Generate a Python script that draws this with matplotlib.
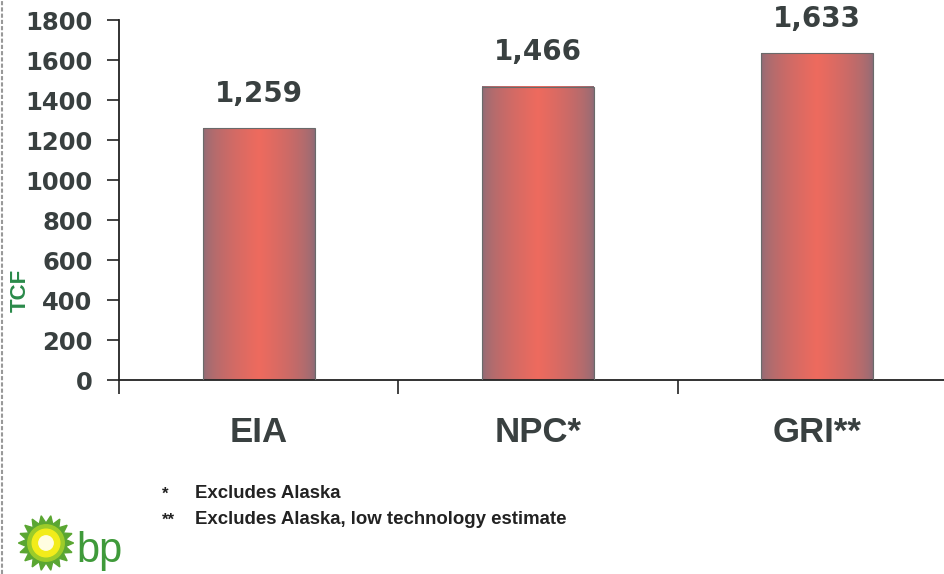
import matplotlib
matplotlib.use('Agg')
import matplotlib.pyplot as plt
import numpy as np
from matplotlib.patches import Polygon, Circle

#------------------data------------------
categories = ['EIA', 'NPC*', 'GRI**']
values = [1259, 1466, 1633]
value_labels = ['1,259', '1,466', '1,633']
yticks = [0, 200, 400, 600, 800, 1000, 1200, 1400, 1600, 1800]
notes = [('*', 'Excludes Alaska'), ('**', 'Excludes Alaska, low technology estimate')]

plt.rcParams['font.family'] = ['Liberation Sans', 'DejaVu Sans']
num_font = 'DejaVu Sans'   #the numbers in the scan are wide, DejaVu fits them better

W, H = 944, 574
fig = plt.figure(figsize=(W / 100, H / 100), dpi=100)
fig.patch.set_facecolor('white')

#axes box in pixel numbers -> fractions
left, right, top, bottom = 119, 957, 20, 380
ax = fig.add_axes([left / W, 1 - bottom / H, (right - left) / W, (bottom - top) / H])

x = np.arange(len(categories))
bars = ax.bar(x, values, width=0.40, facecolor='none', edgecolor='#6a6a6a', linewidth=0.8, zorder=3)

#horizontal gradient: grey-purple edges, salmon centre
t = np.linspace(-1, 1, 200)
wgt = (1 - np.abs(t)) ** 0.55
edge = np.array([138, 108, 120]) / 255.0
centre = np.array([238, 106, 94]) / 255.0
grad = edge[None, :] + (centre - edge)[None, :] * wgt[:, None]
grad = grad[None, :, :]

for rect in bars:
    x0 = rect.get_x()
    w = rect.get_width()
    h = rect.get_height()
    ax.imshow(grad, extent=[x0, x0 + w, 0, h], aspect='auto', zorder=2, interpolation='bilinear')

for rect, lab in zip(bars, value_labels):
    ax.annotate(lab, (rect.get_x() + rect.get_width() / 2, rect.get_height()),
                xytext=(0, 19), textcoords='offset points', ha='center', va='baseline',
                fontsize=20, fontweight='bold', color='#394040', family=num_font)

ax.set_xlim(-0.5, 2.5)
ax.set_ylim(0, 1800)

#spines
for s in ['top', 'right']:
    ax.spines[s].set_visible(False)
ax.spines['left'].set_linewidth(1.3)
ax.spines['bottom'].set_linewidth(1.3)
ax.spines['left'].set_color('#222222')
ax.spines['bottom'].set_color('#222222')

ax.set_yticks(yticks)
ax.set_yticklabels([str(v) for v in yticks], fontsize=17.5, fontweight='bold', color='#394040', family=num_font)
ax.tick_params(axis='y', direction='out', length=9, width=1.2, pad=10, color='#222222')

#category ticks sit between bars, labels centred under bars
ax.set_xticks([-0.5, 0.5, 1.5])
ax.set_xticklabels([])
ax.set_xticks(x, minor=True)
ax.set_xticklabels(categories, minor=True, fontsize=25, fontweight='bold', color='#394040')
ax.tick_params(axis='x', which='major', direction='out', length=10, width=1.2, color='#222222')
ax.tick_params(axis='x', which='minor', length=0, pad=26)

#y label
fig.text(20 / W, 1 - 290 / H, 'TCF', rotation=90, ha='center', va='center',
         fontsize=16, fontweight='bold', color='#2a8a4a')

#footnotes
for i, (mark, txt) in enumerate(notes):
    yy = 1 - (494 + i * 26) / H
    fig.text(162 / W, yy, mark, ha='left', va='center', fontsize=12, fontweight='bold', color='#222222')
    fig.text(195 / W, yy, txt, ha='left', va='center', fontsize=13.4, fontweight='bold', color='#222222')

#bp logo
lax = fig.add_axes([17 / W, 1 - 572 / H, 58 / W, 58 / H])
lax.set_xlim(-1.05, 1.05)
lax.set_ylim(-1.05, 1.05)
lax.set_aspect('equal')
lax.axis('off')
n = 18
ang = np.linspace(0, 2 * np.pi, 2 * n, endpoint=False)
rad = np.where(np.arange(2 * n) % 2 == 0, 1.0, 0.72)
lax.add_patch(Polygon(np.c_[rad * np.cos(ang), rad * np.sin(ang)], closed=True, color='#5aa632'))
lax.add_patch(Circle((0, 0), 0.66, color='#9ccc2a'))
lax.add_patch(Circle((0, 0), 0.5, color='#f2ec1a'))
lax.add_patch(Circle((0, 0), 0.26, color='#fffde0'))
fig.text(76 / W, 1 - 562 / H, 'bp', ha='left', va='baseline', fontsize=30, color='#3f9a3a')

#scan edge line on the left
fig.add_artist(plt.Line2D([2 / W, 2 / W], [0, 1], color='#999999', linewidth=1.5, linestyle=(0, (2, 1))))

fig.savefig('out.png', dpi=100)
